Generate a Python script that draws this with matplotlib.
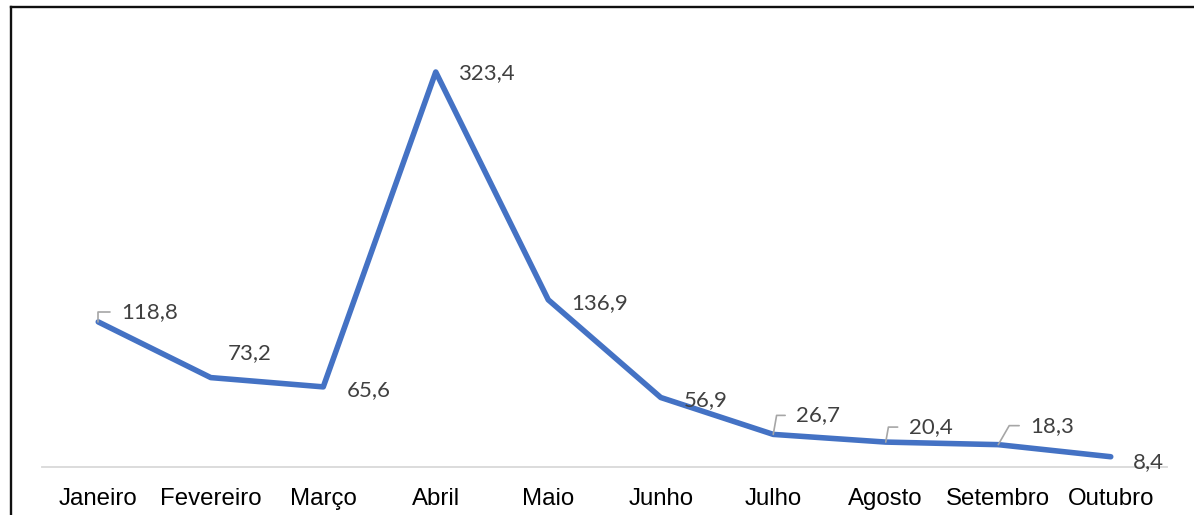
import matplotlib
matplotlib.use("Agg")
import matplotlib.pyplot as plt
from matplotlib.lines import Line2D

months = ["Janeiro", "Fevereiro", "Março", "Abril", "Maio", "Junho",
          "Julho", "Agosto", "Setembro", "Outubro"]
values = [118.8, 73.2, 65.6, 323.4, 136.9, 56.9, 26.7, 20.4, 18.3, 8.4]
labels = ["118,8", "73,2", "65,6", "323,4", "136,9", "56,9", "26,7", "20,4", "18,3", "8,4"]

# label offsets (pixels) and whether a leader line is drawn
offsets = [(23, 10), (17, 24), (23, -3), (22, -1), (23, -3), (23, -3),
           (23, 19), (23, 15), (32, 19), (22, -5)]
leaders = [True, False, False, False, False, False, True, True, True, False]
leader_angle = [90, None, None, None, None, None, 80, 80, 60, None]

fig = plt.figure(figsize=(11.94, 5.15), dpi=100)
ax = fig.add_axes([42/1194, 48/515, 1125/1194, 427.5/515])

x = list(range(len(months)))
ax.plot(x, values, color="#4472C4", linewidth=4.0, solid_joinstyle="round",
        solid_capstyle="round", zorder=3)

ax.set_xlim(-0.5, len(months) - 0.5)
ax.set_ylim(0, 350)
ax.set_yticks([])
ax.set_xticks(x)
ax.set_xticklabels(months, fontsize=17.3, family="Liberation Sans", color="#000000")
ax.tick_params(axis="x", length=0, pad=15)
for s in ["top", "right", "left"]:
    ax.spines[s].set_visible(False)
ax.spines["bottom"].set_color("#d9d9d9")
ax.spines["bottom"].set_linewidth(1.3)

for i, (v, lab) in enumerate(zip(values, labels)):
    dx, dy = offsets[i]
    kw = {}
    if leaders[i]:
        kw["arrowprops"] = dict(arrowstyle="-", color="#a6a6a6", lw=1.2,
                                shrinkA=6, shrinkB=0, relpos=(0, 0.5),
                                connectionstyle="angle,angleA=0,angleB=%d,rad=0" % leader_angle[i])
    ax.annotate(lab, xy=(i, v), xytext=(dx, dy), textcoords="offset pixels",
                ha="left", va="center", fontsize=16, family="Lato",
                color="#404040", zorder=4, **kw)

# outer frame (left and top)
fig.add_artist(Line2D([10.5/1194, 10.5/1194], [0, 1 - 7/515], transform=fig.transFigure,
                      color="#101010", lw=1.7))
fig.add_artist(Line2D([10.5/1194, 1], [1 - 7/515, 1 - 7/515], transform=fig.transFigure,
                      color="#101010", lw=1.7))

fig.savefig("out.png", dpi=100)
